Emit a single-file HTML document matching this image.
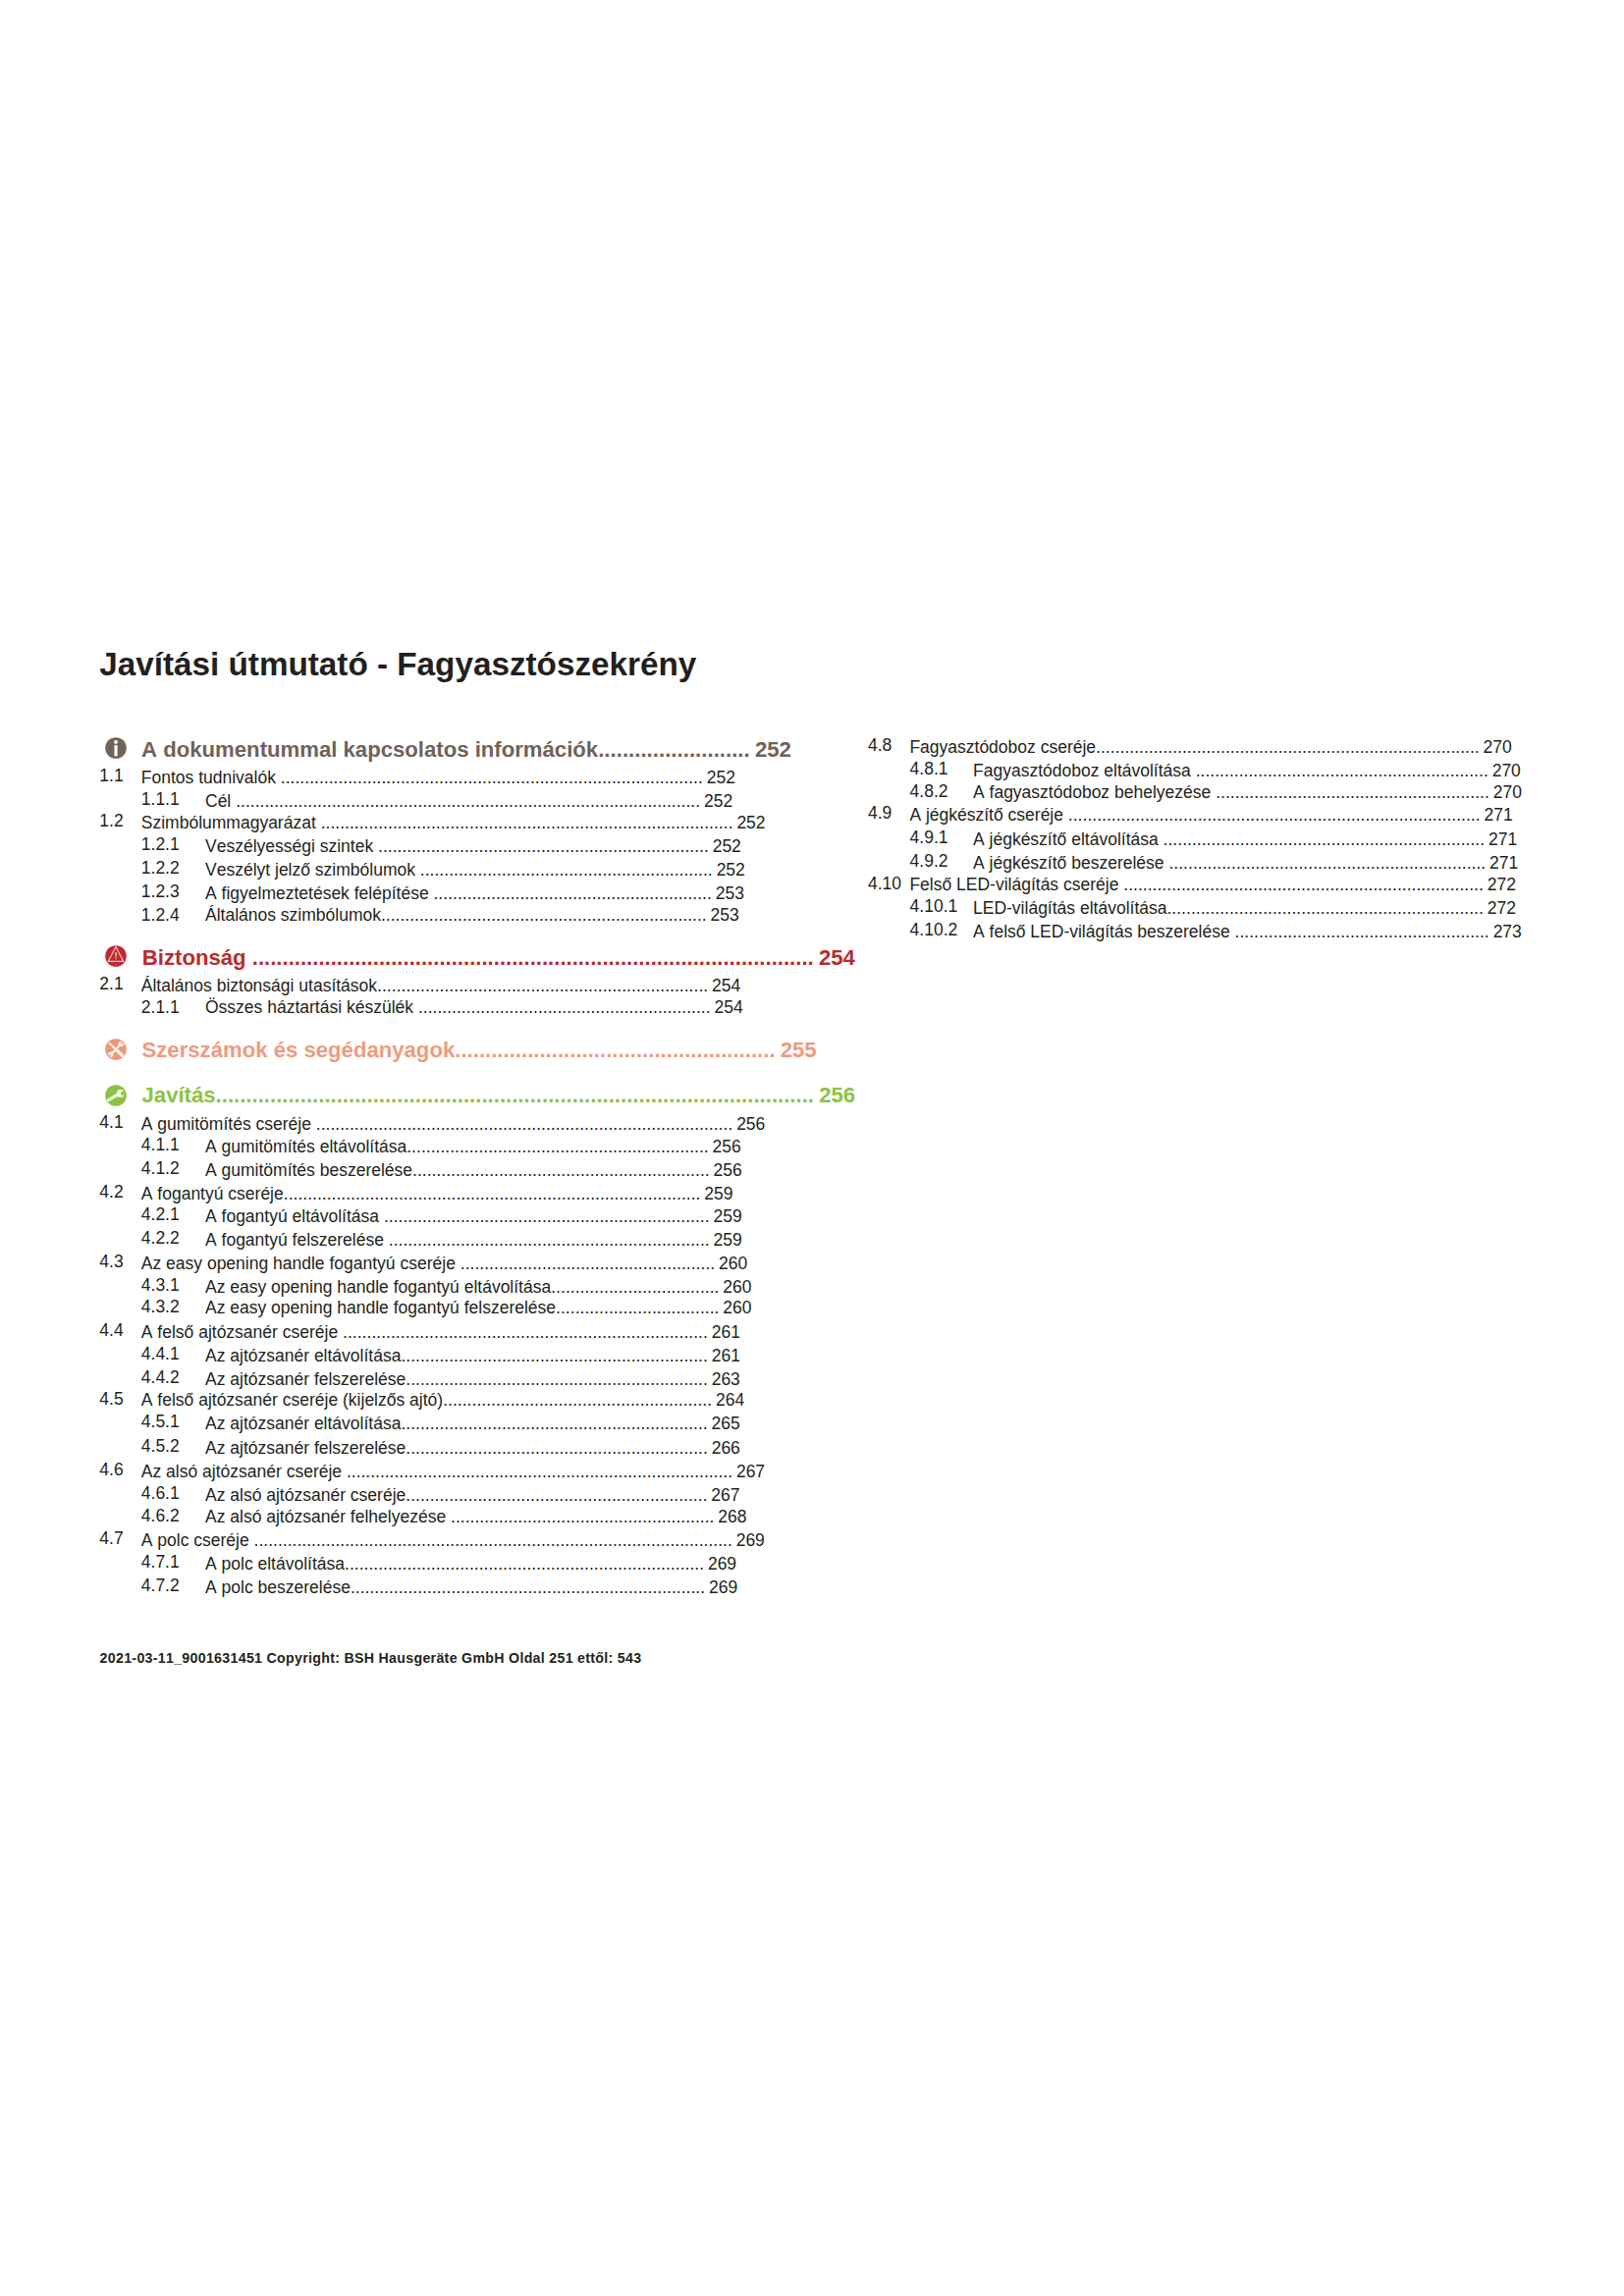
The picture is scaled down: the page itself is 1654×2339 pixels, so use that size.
<!DOCTYPE html>
<html lang="hu"><head><meta charset="utf-8"><title>Javítási útmutató - Fagyasztószekrény</title>
<style>
html,body{margin:0;padding:0;background:#fff}
body{width:1654px;height:2339px;position:relative;overflow:hidden;font-family:"Liberation Sans",sans-serif;color:#231f20;font-kerning:none}
.r,.h{position:absolute;left:0;width:1654px;height:0;white-space:nowrap}
.r{font-size:17.5px;line-height:20px}
.h{font-size:22.15px;line-height:25px;font-weight:bold}
.r>span,.h>span{position:absolute;top:0;white-space:pre}
.d{word-spacing:-1.0px}
.ic{position:absolute}
#title{position:absolute;left:101.3px;top:658px;font-size:33.25px;line-height:37px;font-weight:bold;white-space:nowrap;margin:0}
#foot{position:absolute;left:101.6px;top:1681px;font-size:14.2px;line-height:16px;font-weight:bold;white-space:nowrap;letter-spacing:0.30px}
</style></head>
<body>
<h1 id="title">Javítási útmutató - Fagyasztószekrény</h1>
<svg class="ic" style="left:106.85px;top:751.00px" width="22" height="22" viewBox="0 0 22 22"><circle cx="11" cy="11" r="10.8" fill="#70635a"/><circle cx="11" cy="4.9" r="1.85" fill="#fff"/><rect x="9.45" y="8.2" width="3.15" height="11.1" fill="#fff"/></svg>
<svg class="ic" style="left:106.90px;top:963.20px" width="22" height="22" viewBox="0 0 22 22"><circle cx="11" cy="11" r="10.8" fill="#be2a33"/><path d="M10.95 1.6L18.7 16.4H3.2z" fill="none" stroke="#fbc4c4" stroke-width="1.15" stroke-linejoin="miter"/><path d="M10.2 7h1.7l-.25 5.3h-1.2z" fill="#f9b0b0"/><rect x="10.35" y="12.9" width="1.4" height="1.2" fill="#f9b0b0"/></svg>
<svg class="ic" style="left:106.85px;top:1057.70px" width="22" height="22" viewBox="0 0 22 22"><circle cx="11" cy="11" r="10.8" fill="#ec987b"/><g fill="none" stroke="#fdf3e2" stroke-linecap="round"><path d="M4.4 4.6L12 12" stroke-width="1.9"/><path d="M12 12L17.4 17.3" stroke-width="3.3"/><path d="M16.2 5.6L5.8 16.2" stroke-width="2"/></g><circle cx="16.3" cy="5.5" r="2.7" fill="#fdf3e2"/><circle cx="5.7" cy="16.3" r="2.7" fill="#fdf3e2"/><path d="M16.6 5.2L18.3 3.6" stroke="#ec987b" stroke-width="1.7"/><path d="M5.4 16.6L3.7 18.3" stroke="#ec987b" stroke-width="1.7"/></svg>
<svg class="ic" style="left:106.85px;top:1104.55px" width="22" height="22" viewBox="0 0 22 22"><circle cx="11" cy="11" r="10.8" fill="#8cc341"/><path d="M3.4 15.6L14.6 9.2" stroke="#f4fbe6" stroke-width="3.2" stroke-linecap="round" fill="none"/><circle cx="15.7" cy="8.9" r="3.9" fill="#f4fbe6"/><rect x="16.2" y="7.1" width="4.6" height="3.5" fill="#8cc341"/><circle cx="4.5" cy="15.1" r=".55" fill="#8cc341"/></svg>
<div class="h" style="top:751px;color:#6f6259"><span class="t" style="left:144.1px">A dokumentummal kapcsolatos információk<span style="letter-spacing:0.032px">.........................</span><span class="d"> 252</span></span></div>
<div class="h" style="top:963px;color:#b92a30"><span class="t" style="left:144.8px">Biztonság <span style="letter-spacing:-0.001px">.............................................................................................</span><span class="d"> 254</span></span></div>
<div class="h" style="top:1057px;color:#ee9b80"><span class="t" style="left:144.5px">Szerszámok és segédanyagok<span style="letter-spacing:0.005px">.....................................................</span><span class="d"> 255</span></span></div>
<div class="h" style="top:1103px;color:#8cc341"><span class="t" style="left:144.5px">Javítás<span style="letter-spacing:0.004px">...................................................................................................</span><span class="d"> 256</span></span></div>
<div class="r" style="top:782px"><span class="n" style="left:101.3px;top:-2px">1.1</span><span class="t" style="left:143.8px">Fontos tudnivalók <span style="letter-spacing:0.024px">........................................................................................</span><span class="d"> 252</span></span></div>
<div class="r" style="top:806px"><span class="n" style="left:143.8px;top:-2px">1.1.1</span><span class="t" style="left:209.0px">Cél <span style="letter-spacing:0.014px">.................................................................................................</span><span class="d"> 252</span></span></div>
<div class="r" style="top:828px"><span class="n" style="left:101.3px;top:-2px">1.2</span><span class="t" style="left:143.8px">Szimbólummagyarázat <span style="letter-spacing:0.020px">......................................................................................</span><span class="d"> 252</span></span></div>
<div class="r" style="top:852px"><span class="n" style="left:143.8px;top:-2px">1.2.1</span><span class="t" style="left:209.0px">Veszélyességi szintek <span style="letter-spacing:0.018px">.....................................................................</span><span class="d"> 252</span></span></div>
<div class="r" style="top:876px"><span class="n" style="left:143.8px;top:-2px">1.2.2</span><span class="t" style="left:209.0px">Veszélyt jelző szimbólumok <span style="letter-spacing:0.022px">.............................................................</span><span class="d"> 252</span></span></div>
<div class="r" style="top:900px"><span class="n" style="left:143.8px;top:-2px">1.2.3</span><span class="t" style="left:209.0px">A figyelmeztetések felépítése <span style="letter-spacing:0.024px">..........................................................</span><span class="d"> 253</span></span></div>
<div class="r" style="top:922px"><span class="n" style="left:143.8px;top:-0px">1.2.4</span><span class="t" style="left:209.0px">Általános szimbólumok<span style="letter-spacing:0.016px">....................................................................</span><span class="d"> 253</span></span></div>
<div class="r" style="top:994px"><span class="n" style="left:101.3px;top:-2px">2.1</span><span class="t" style="left:143.8px">Általános biztonsági utasítások<span style="letter-spacing:0.023px">.....................................................................</span><span class="d"> 254</span></span></div>
<div class="r" style="top:1016px"><span class="n" style="left:143.8px;top:-0px">2.1.1</span><span class="t" style="left:209.0px">Összes háztartási készülék <span style="letter-spacing:0.018px">.............................................................</span><span class="d"> 254</span></span></div>
<div class="r" style="top:1135px"><span class="n" style="left:101.3px;top:-2px">4.1</span><span class="t" style="left:143.8px">A gumitömítés cseréje <span style="letter-spacing:0.017px">.......................................................................................</span><span class="d"> 256</span></span></div>
<div class="r" style="top:1158px"><span class="n" style="left:143.8px;top:-2px">4.1.1</span><span class="t" style="left:209.0px">A gumitömítés eltávolítása<span style="letter-spacing:0.019px">...............................................................</span><span class="d"> 256</span></span></div>
<div class="r" style="top:1182px"><span class="n" style="left:143.8px;top:-2px">4.1.2</span><span class="t" style="left:209.0px">A gumitömítés beszerelése<span style="letter-spacing:0.018px">..............................................................</span><span class="d"> 256</span></span></div>
<div class="r" style="top:1206px"><span class="n" style="left:101.3px;top:-2px">4.2</span><span class="t" style="left:143.8px">A fogantyú cseréje<span style="letter-spacing:0.019px">.......................................................................................</span><span class="d"> 259</span></span></div>
<div class="r" style="top:1229px"><span class="n" style="left:143.8px;top:-2px">4.2.1</span><span class="t" style="left:209.0px">A fogantyú eltávolítása <span style="letter-spacing:0.016px">....................................................................</span><span class="d"> 259</span></span></div>
<div class="r" style="top:1253px"><span class="n" style="left:143.8px;top:-2px">4.2.2</span><span class="t" style="left:209.0px">A fogantyú felszerelése <span style="letter-spacing:0.017px">...................................................................</span><span class="d"> 259</span></span></div>
<div class="r" style="top:1277px"><span class="n" style="left:101.3px;top:-2px">4.3</span><span class="t" style="left:143.8px">Az easy opening handle fogantyú cseréje <span style="letter-spacing:0.033px">.....................................................</span><span class="d"> 260</span></span></div>
<div class="r" style="top:1301px"><span class="n" style="left:143.8px;top:-2px">4.3.1</span><span class="t" style="left:209.0px">Az easy opening handle fogantyú eltávolítása<span style="letter-spacing:0.031px">...................................</span><span class="d"> 260</span></span></div>
<div class="r" style="top:1322px"><span class="n" style="left:143.8px;top:-1px">4.3.2</span><span class="t" style="left:209.0px">Az easy opening handle fogantyú felszerelése<span style="letter-spacing:0.032px">..................................</span><span class="d"> 260</span></span></div>
<div class="r" style="top:1347px"><span class="n" style="left:101.3px;top:-2px">4.4</span><span class="t" style="left:143.8px">A felső ajtózsanér cseréje <span style="letter-spacing:0.030px">............................................................................</span><span class="d"> 261</span></span></div>
<div class="r" style="top:1371px"><span class="n" style="left:143.8px;top:-2px">4.4.1</span><span class="t" style="left:209.0px">Az ajtózsanér eltávolítása<span style="letter-spacing:0.019px">................................................................</span><span class="d"> 261</span></span></div>
<div class="r" style="top:1395px"><span class="n" style="left:143.8px;top:-2px">4.4.2</span><span class="t" style="left:209.0px">Az ajtózsanér felszerelése<span style="letter-spacing:0.019px">...............................................................</span><span class="d"> 263</span></span></div>
<div class="r" style="top:1416px"><span class="n" style="left:101.3px;top:-1px">4.5</span><span class="t" style="left:143.8px">A felső ajtózsanér cseréje (kijelzős ajtó)<span style="letter-spacing:0.029px">........................................................</span><span class="d"> 264</span></span></div>
<div class="r" style="top:1440px"><span class="n" style="left:143.8px;top:-2px">4.5.1</span><span class="t" style="left:209.0px">Az ajtózsanér eltávolítása<span style="letter-spacing:0.018px">................................................................</span><span class="d"> 265</span></span></div>
<div class="r" style="top:1465px"><span class="n" style="left:143.8px;top:-2px">4.5.2</span><span class="t" style="left:209.0px">Az ajtózsanér felszerelése<span style="letter-spacing:0.019px">...............................................................</span><span class="d"> 266</span></span></div>
<div class="r" style="top:1489px"><span class="n" style="left:101.3px;top:-2px">4.6</span><span class="t" style="left:143.8px">Az alsó ajtózsanér cseréje <span style="letter-spacing:-0.009px">.................................................................................</span><span class="d"> 267</span></span></div>
<div class="r" style="top:1513px"><span class="n" style="left:143.8px;top:-2px">4.6.1</span><span class="t" style="left:209.0px">Az alsó ajtózsanér cseréje<span style="letter-spacing:0.014px">...............................................................</span><span class="d"> 267</span></span></div>
<div class="r" style="top:1535px"><span class="n" style="left:143.8px;top:-1px">4.6.2</span><span class="t" style="left:209.0px">Az alsó ajtózsanér felhelyezése <span style="letter-spacing:0.019px">.......................................................</span><span class="d"> 268</span></span></div>
<div class="r" style="top:1559px"><span class="n" style="left:101.3px;top:-2px">4.7</span><span class="t" style="left:143.8px">A polc cseréje <span style="letter-spacing:0.010px">....................................................................................................</span><span class="d"> 269</span></span></div>
<div class="r" style="top:1583px"><span class="n" style="left:143.8px;top:-2px">4.7.1</span><span class="t" style="left:209.0px">A polc eltávolítása<span style="letter-spacing:0.018px">...........................................................................</span><span class="d"> 269</span></span></div>
<div class="r" style="top:1607px"><span class="n" style="left:143.8px;top:-2px">4.7.2</span><span class="t" style="left:209.0px">A polc beszerelése<span style="letter-spacing:0.019px">..........................................................................</span><span class="d"> 269</span></span></div>
<div class="r" style="top:751px"><span class="n" style="left:884.0px;top:-2px">4.8</span><span class="t" style="left:926.4px">Fagyasztódoboz cseréje<span style="letter-spacing:0.021px">................................................................................</span><span class="d"> 270</span></span></div>
<div class="r" style="top:775px"><span class="n" style="left:926.6px;top:-2px">4.8.1</span><span class="t" style="left:991.0px">Fagyasztódoboz eltávolítása <span style="letter-spacing:0.025px">.............................................................</span><span class="d"> 270</span></span></div>
<div class="r" style="top:797px"><span class="n" style="left:926.6px;top:-1px">4.8.2</span><span class="t" style="left:991.0px">A fagyasztódoboz behelyezése <span style="letter-spacing:0.027px">.........................................................</span><span class="d"> 270</span></span></div>
<div class="r" style="top:820px"><span class="n" style="left:884.0px;top:-2px">4.9</span><span class="t" style="left:926.4px">A jégkészítő cseréje <span style="letter-spacing:0.019px">......................................................................................</span><span class="d"> 271</span></span></div>
<div class="r" style="top:845px"><span class="n" style="left:926.6px;top:-2px">4.9.1</span><span class="t" style="left:991.0px">A jégkészítő eltávolítása <span style="letter-spacing:0.027px">...................................................................</span><span class="d"> 271</span></span></div>
<div class="r" style="top:869px"><span class="n" style="left:926.6px;top:-2px">4.9.2</span><span class="t" style="left:991.0px">A jégkészítő beszerelése <span style="letter-spacing:0.029px">..................................................................</span><span class="d"> 271</span></span></div>
<div class="r" style="top:891px"><span class="n" style="left:884.0px;top:-1px">4.10</span><span class="t" style="left:926.4px">Felső LED-világítás cseréje <span style="letter-spacing:0.026px">...........................................................................</span><span class="d"> 272</span></span></div>
<div class="r" style="top:915px"><span class="n" style="left:926.6px;top:-2px">4.10.1</span><span class="t" style="left:991.0px">LED-világítás eltávolítása<span style="letter-spacing:0.023px">..................................................................</span><span class="d"> 272</span></span></div>
<div class="r" style="top:939px"><span class="n" style="left:926.6px;top:-2px">4.10.2</span><span class="t" style="left:991.0px">A felső LED-világítás beszerelése <span style="letter-spacing:0.029px">.....................................................</span><span class="d"> 273</span></span></div>
<div id="foot">2021-03-11_9001631451 Copyright: BSH Hausgeräte GmbH Oldal 251 ettől: 543</div>
</body></html>
